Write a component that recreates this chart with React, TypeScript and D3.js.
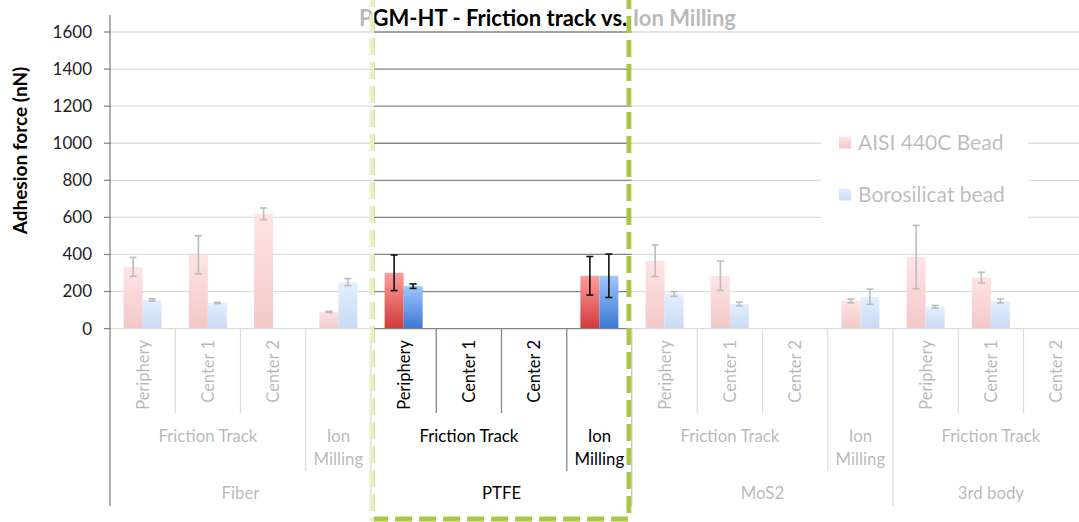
import React, { useRef, useEffect } from "react";
import * as d3 from "d3";

// leaf categories (15 slots, multi-level axis)
const groups = [
  "Fiber", "Fiber", "Fiber", "Fiber",
  "PTFE", "PTFE", "PTFE", "PTFE",
  "MoS2", "MoS2", "MoS2", "MoS2",
  "3rd body", "3rd body", "3rd body",
];
const methods = [
  "Friction Track", "Friction Track", "Friction Track", "Ion Milling",
  "Friction Track", "Friction Track", "Friction Track", "Ion Milling",
  "Friction Track", "Friction Track", "Friction Track", "Ion Milling",
  "Friction Track", "Friction Track", "Friction Track",
];
const positions = [
  "Periphery", "Center 1", "Center 2", "",
  "Periphery", "Center 1", "Center 2", "",
  "Periphery", "Center 1", "Center 2", "",
  "Periphery", "Center 1", "Center 2",
];

const aisiValues = [333, 398, 619, 90, 301, null, null, 285, 366, 285, null, 149, 386, 275, null];
const aisiErrors = [51, 103, 32, 4, 96, null, null, 104, 85, 79, null, 10, 171, 29, null];
const boroValues = [155, 138, null, 251, 229, null, null, 285, 187, 133, null, 172, 118, 149, null];
const boroErrors = [6, 3, null, 19, 12, null, null, 117, 13, 10, null, 41, 7, 11, null];

const seriesNames = ["AISI 440C Bead", "Borosilicat bead"];
const yTicks = [0, 200, 400, 600, 800, 1000, 1200, 1400, 1600];

const title = "PGM-HT - Friction track vs. Ion Milling";
const yTitle = "Adhesion force (nN)";

const FONT = "Lato, 'Open Sans', sans-serif";

const App: React.FC = () => {
  const svgRef = useRef<SVGSVGElement>(null);

  useEffect(() => {
    if (!svgRef.current) return;
    const svg = d3.select(svgRef.current);
    svg.selectAll("*").remove();

    const width = 1079;
    const height = 522;
    const left = 110;
    const slot = 65.25;
    const n = positions.length;

    const x = d3
      .scaleBand<number>()
      .domain(d3.range(n))
      .range([left, left + n * slot])
      .paddingInner(0)
      .paddingOuter(0);

    const xSeries = d3
      .scaleBand<string>()
      .domain(["aisi", "boro"])
      .range([0, x.bandwidth()])
      .paddingInner(0)
      .paddingOuter(0.717);

    const y = d3.scaleLinear().domain([0, 1600]).range([328.6, 32]);

    // gradients
    const defs = svg.append("defs");
    const grad = (id: string, top: string, bottom: string) => {
      const g = defs
        .append("linearGradient")
        .attr("id", id)
        .attr("x1", "0%")
        .attr("y1", "0%")
        .attr("x2", "0%")
        .attr("y2", "100%");
      g.append("stop").attr("offset", "0%").attr("stop-color", top);
      g.append("stop").attr("offset", "100%").attr("stop-color", bottom);
    };
    grad("grad-aisi", "#ff9e9e", "#d03a3a");
    grad("grad-boro", "#9fc6ff", "#3a78d2");

    const g = svg.append("g");

    // gridlines
    g.append("g")
      .selectAll("line")
      .data(yTicks.filter((d) => d > 0))
      .enter()
      .append("line")
      .attr("x1", left)
      .attr("x2", width)
      .attr("y1", (d) => y(d))
      .attr("y2", (d) => y(d))
      .attr("stroke", "#858585")
      .attr("stroke-width", 1.3);

    // legend background
    g.append("rect")
      .attr("x", 821)
      .attr("y", 118)
      .attr("width", 207)
      .attr("height", 104)
      .attr("fill", "#fff");

    // bars
    const drawSeries = (
      key: string,
      vals: (number | null)[],
      errs: (number | null)[],
      fill: string,
    ) => {
      const idx = d3.range(n).filter((i) => vals[i] != null);
      g.append("g")
        .selectAll("rect")
        .data(idx)
        .enter()
        .append("rect")
        .attr("x", (i) => (x(i) as number) + (xSeries(key) as number))
        .attr("width", xSeries.bandwidth())
        .attr("y", (i) => y(vals[i] as number))
        .attr("height", (i) => y(0) - y(vals[i] as number))
        .attr("fill", fill);

      const eg = g.append("g").attr("stroke", "#111").attr("stroke-width", 1.6);
      idx
        .filter((i) => errs[i] != null)
        .forEach((i) => {
          const cx = (x(i) as number) + (xSeries(key) as number) + xSeries.bandwidth() / 2;
          const v = vals[i] as number;
          const e = errs[i] as number;
          const y1 = y(v + e);
          const y2 = y(Math.max(0, v - e));
          eg.append("line").attr("x1", cx).attr("x2", cx).attr("y1", y1).attr("y2", y2);
          eg.append("line").attr("x1", cx - 3.5).attr("x2", cx + 3.5).attr("y1", y1).attr("y2", y1);
          eg.append("line").attr("x1", cx - 3.5).attr("x2", cx + 3.5).attr("y1", y2).attr("y2", y2);
        });
    };
    drawSeries("aisi", aisiValues, aisiErrors, "url(#grad-aisi)");
    drawSeries("boro", boroValues, boroErrors, "url(#grad-boro)");

    // category axis line and separators
    g.append("line")
      .attr("x1", left)
      .attr("x2", width)
      .attr("y1", y(0))
      .attr("y2", y(0))
      .attr("stroke", "#858585")
      .attr("stroke-width", 1.3);

    const seps = d3.range(1, n);
    g.append("g")
      .selectAll("line")
      .data(seps)
      .enter()
      .append("line")
      .attr("x1", (i) => x(i) as number)
      .attr("x2", (i) => x(i) as number)
      .attr("y1", y(0))
      .attr("y2", (i) =>
        groups[i] !== groups[i - 1] ? 506 : methods[i] !== methods[i - 1] ? 471 : 413,
      )
      .attr("stroke", "#858585")
      .attr("stroke-width", 1.3);

    // position labels (rotated)
    g.append("g")
      .selectAll("text")
      .data(d3.range(n).filter((i) => positions[i] !== ""))
      .enter()
      .append("text")
      .attr(
        "transform",
        (i) => `translate(${(x(i) as number) + x.bandwidth() / 2},340) rotate(-90)`,
      )
      .attr("dy", "0.36em")
      .attr("text-anchor", "end")
      .attr("font-family", FONT)
      .attr("font-size", 16.5)
      .attr("fill", "#000")
      .text((i) => positions[i]);

    // method labels (span consecutive slots)
    const spans = (keyOf: (i: number) => string) => {
      const out: { label: string; start: number; end: number }[] = [];
      d3.range(n).forEach((i) => {
        const k = keyOf(i);
        const last = out[out.length - 1];
        if (last && keyOf(last.start) === k) last.end = i;
        else out.push({ label: k, start: i, end: i });
      });
      return out;
    };
    const methodSpans = spans((i) => groups[i] + "|" + methods[i]);
    methodSpans.forEach((s) => {
      const cx = ((x(s.start) as number) + (x(s.end) as number) + x.bandwidth()) / 2;
      const label = methods[s.start];
      const lines = label === "Ion Milling" ? ["Ion", "Milling"] : [label];
      lines.forEach((t, k) => {
        g.append("text")
          .attr("x", cx)
          .attr("y", 442 + k * 23)
          .attr("text-anchor", "middle")
          .attr("font-family", FONT)
          .attr("font-size", 16.8)
          .attr("fill", "#000")
          .text(t);
      });
    });

    const groupSpans = spans((i) => groups[i]);
    groupSpans.forEach((s) => {
      const cx = ((x(s.start) as number) + (x(s.end) as number) + x.bandwidth()) / 2;
      g.append("text")
        .attr("x", cx)
        .attr("y", 499)
        .attr("text-anchor", "middle")
        .attr("font-family", FONT)
        .attr("font-size", 16.8)
        .attr("fill", "#000")
        .text(groups[s.start]);
    });

    // legend
    const legend = g.append("g").attr("font-family", FONT).attr("font-size", 21);
    seriesNames.forEach((name, k) => {
      const ly = 142.5 + k * 52;
      legend
        .append("rect")
        .attr("x", 839)
        .attr("y", ly - 6)
        .attr("width", 12)
        .attr("height", 12)
        .attr("fill", k === 0 ? "url(#grad-aisi)" : "url(#grad-boro)");
      legend
        .append("text")
        .attr("x", 858)
        .attr("y", ly + 7)
        .attr("fill", "#111")
        .text(name);
    });

    // title
    g.append("text")
      .attr("x", 547.5)
      .attr("y", 26)
      .attr("text-anchor", "middle")
      .attr("font-family", FONT)
      .attr("font-weight", "bold")
      .attr("font-size", 22)
      .attr("fill", "#000")
      .text(title);

    // highlight box (drawn before the fade so its left edge is half faded)
    g.append("path")
      .attr("d", "M372,-10 V519 H629 V-10")
      .attr("fill", "none")
      .attr("stroke", "#a7c83f")
      .attr("stroke-width", 5)
      .attr("stroke-dasharray", "17 7");

    // fade everything outside the highlighted PTFE region
    g.append("path")
      .attr(
        "d",
        `M111,0 H${width} V${height} H111 Z M374,0 V${height} H631.5 V0 Z`,
      )
      .attr("fill", "#fff")
      .attr("fill-opacity", 0.72)
      .attr("fill-rule", "evenodd");

    // value axis
    g.append("line")
      .attr("x1", left)
      .attr("x2", left)
      .attr("y1", 15)
      .attr("y2", 506)
      .attr("stroke", "#858585")
      .attr("stroke-width", 1.3);

    const yAxis = g.append("g");
    yTicks.forEach((t) => {
      yAxis
        .append("line")
        .attr("x1", left - 6)
        .attr("x2", left)
        .attr("y1", y(t))
        .attr("y2", y(t))
        .attr("stroke", "#858585")
        .attr("stroke-width", 1.3);
      yAxis
        .append("text")
        .attr("x", 92)
        .attr("y", y(t))
        .attr("dy", "0.35em")
        .attr("text-anchor", "end")
        .attr("font-family", FONT)
        .attr("font-size", 17)
        .attr("fill", "#222")
        .text(t);
    });

    g.append("text")
      .attr("transform", `translate(20,150.5) rotate(-90)`)
      .attr("dy", "0.35em")
      .attr("text-anchor", "middle")
      .attr("font-family", FONT)
      .attr("font-weight", "bold")
      .attr("font-size", 19)
      .attr("fill", "#000")
      .text(yTitle);
  }, []);

  return (
    <svg
      ref={svgRef}
      width={1079}
      height={522}
      style={{ position: "absolute", left: 0, top: 0, background: "#fff" }}
    />
  );
};

export default App;
